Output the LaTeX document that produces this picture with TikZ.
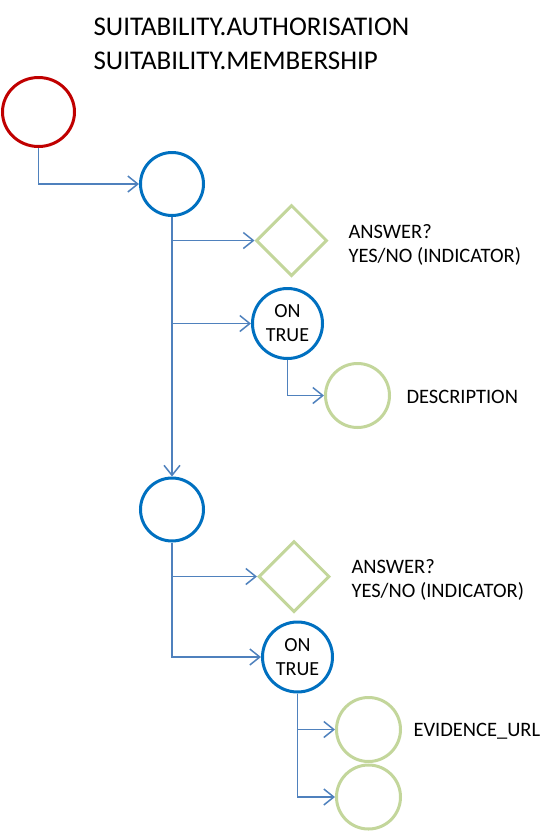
\documentclass[tikz,border=0pt]{standalone}
\usepackage{fontspec}
\setmainfont{Carlito}
\usetikzlibrary{
	arrows.meta,
	shapes.geometric
}
\definecolor{startred}{HTML}{C00000}
\definecolor{stepblue}{HTML}{0070C0}
\definecolor{leafgreen}{HTML}{C3D69B}
\definecolor{linkblue}{HTML}{4F81BD}

\begin{document}
\begin{tikzpicture}[x=1pt,y=-1pt,
	ring/.style={circle,draw,line width=3pt,inner sep=0pt,align=center,font=\fontsize{20}{24}\selectfont},
	startring/.style={ellipse,draw=startred,line width=3pt,minimum width=72pt,minimum height=69pt},
	stepring/.style={ring,draw=stepblue,minimum size=63pt},
	truering/.style={ring,draw=stepblue,minimum size=70pt},
	leafring/.style={ring,draw=leafgreen,minimum size=64pt},
	askbox/.style={diamond,draw=leafgreen,line width=3pt,minimum size=71pt,inner sep=0pt},
	tag/.style={anchor=west,align=left,font=\fontsize{20.5}{24}\selectfont},
	link/.style={draw=linkblue,line width=1.5pt,-{Straight Barb[length=10pt,width=16pt,line width=1.5pt]}}]
	\useasboundingbox (0,0) rectangle (557,831);

	% titel
	\node[anchor=west,align=left,font=\fontsize{27}{34}\selectfont] (title) at (90,44)
		{SUITABILITY.AUTHORISATION\\SUITABILITY.MEMBERSHIP};

	% knopen
	\node[startring] (start) at (38.5,112) {};
	\node[stepring] (auth) at (172,184) {};
	\node[askbox] (ask1) at (291.5,240.5) {};
	\node[truering] (true1) at (287.5,323.5) {ON\\TRUE};
	\node[leafring] (desc) at (357.5,395.5) {};
	\node[stepring] (memb) at (172,509.5) {};
	\node[askbox] (ask2) at (294,576.5) {};
	\node[truering] (true2) at (297.5,657) {ON\\TRUE};
	\node[leafring] (url) at (368.5,729.5) {};
	\node[leafring] (extra) at (368.5,797) {};

	% teksten
	\node[tag] (ask1txt) at (345,245) {ANSWER?\\YES/NO (INDICATOR)};
	\node[tag] (desctxt) at (403,397) {DESCRIPTION};
	\node[tag] (ask2txt) at (348,580) {ANSWER?\\YES/NO (INDICATOR)};
	\node[tag] (urltxt) at (410,731) {EVIDENCE\_URL};

	% verbindingen
	\draw[link] (start.south) |- (auth.west);
	\draw[link] (auth.south) -- (memb.north);
	\foreach \from/\to in {auth/ask1,auth/true1,true1/desc,memb/ask2,memb/true2,true2/url,true2/extra}
		\draw[link] (\from.south) |- (\to.west);
\end{tikzpicture}
\end{document}
